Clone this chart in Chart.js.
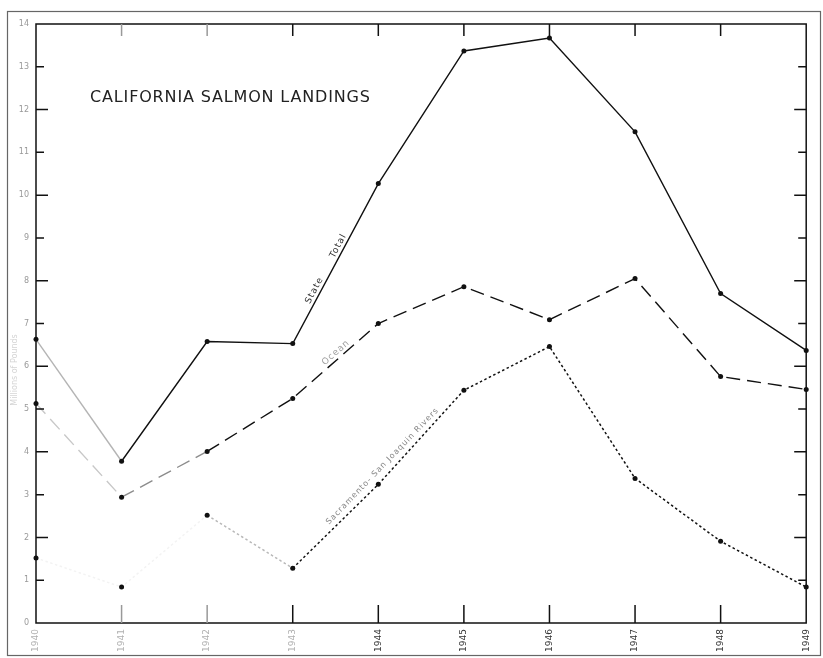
<!DOCTYPE html>
<html>
<head>
<meta charset="utf-8">
<script src="https://cdn.jsdelivr.net/npm/chart.js@4.4.1/dist/chart.umd.min.js"></script>
<style>
    html, body { margin: 0; padding: 0; background: #fff; }
    #wrap { width: 823px; height: 658px; position: relative; }
</style>
</head>
<body>
<div id="wrap"><canvas id="salmonChart"></canvas></div>
<script>
// Data (millions of pounds)
const years = ['1940', '1941', '1942', '1943', '1944', '1945', '1946', '1947', '1948', '1949'];
const stateTotal = [6.63, 3.78, 6.58, 6.53, 10.27, 13.37, 13.67, 11.48, 7.70, 6.37];
const ocean = [5.13, 2.94, 4.01, 5.25, 7.00, 7.86, 7.09, 8.05, 5.76, 5.46];
const rivers = [1.52, 0.84, 2.52, 1.28, 3.24, 5.44, 6.46, 3.38, 1.91, 0.84];
const yTickValues = [0, 1, 2, 3, 4, 5, 6, 7, 8, 9, 10, 11, 12, 13, 14];

// the old scan is washed out on the left, so early segments are lighter
const totalFade = ['#b4b4b4'];
const oceanFade = ['#c8c8c8', '#8c8c8c'];
const riversFade = ['#f3f3f3', '#f3f3f3', '#b8b8b8'];

// line labels written along the curves
const notes = [
    { text: 'State      Total', data: stateTotal, from: 3, to: 4, t: 0.45, off: 6, color: '#333', size: 9 },
    { text: 'Ocean', data: ocean, from: 3, to: 4, t: 0.55, off: 6, color: '#a0a0a0', size: 9 },
    { text: 'Sacramento- San Joaquin Rivers', data: rivers, from: 3, to: 5, t: 0.55, off: 6, color: '#888', size: 8 }
];

const framePlugin = {
    id: 'framePlugin',
    afterDraw(chart) {
        const ctx = chart.ctx;
        const area = chart.chartArea;
        const xs = chart.scales.x;
        const ys = chart.scales.y;
        ctx.save();

        // outer border of the sheet
        ctx.strokeStyle = '#666';
        ctx.lineWidth = 1.2;
        ctx.strokeRect(7.5, 11.5, 813, 644);

        // plot box
        ctx.strokeStyle = '#111';
        ctx.lineWidth = 1.5;
        ctx.strokeRect(area.left, area.top, area.right - area.left, area.bottom - area.top);

        // inward ticks on left and right sides
        yTickValues.forEach(v => {
            if (v === 0 || v === 14) return;
            const y = ys.getPixelForValue(v);
            const len = v % 2 === 0 ? 12 : 8;
            ctx.beginPath();
            ctx.moveTo(area.left, y);
            ctx.lineTo(area.left + len, y);
            ctx.moveTo(area.right, y);
            ctx.lineTo(area.right - len, y);
            ctx.stroke();
        });

        // inward ticks on top and bottom
        years.forEach((yr, i) => {
            if (i === 0 || i === years.length - 1) return;
            const x = xs.getPixelForValue(i);
            ctx.strokeStyle = i < 3 ? '#999' : '#111';
            ctx.beginPath();
            ctx.moveTo(x, area.bottom);
            ctx.lineTo(x, area.bottom - 18);
            ctx.moveTo(x, area.top);
            ctx.lineTo(x, area.top + 12);
            ctx.stroke();
        });

        // title
        const title = 'CALIFORNIA SALMON LANDINGS';
        ctx.fillStyle = '#222';
        ctx.font = '16px "DejaVu Sans"';
        const w = ctx.measureText(title).width;
        ctx.letterSpacing = Math.max(0, (280 - w) / (title.length - 1)) + 'px';
        ctx.textAlign = 'left';
        ctx.textBaseline = 'middle';
        ctx.fillText(title, 90, 98);
        ctx.letterSpacing = '0px';

        // faint axis title
        ctx.save();
        ctx.translate(15, 370);
        ctx.rotate(-Math.PI / 2);
        ctx.fillStyle = '#d4d4d4';
        ctx.font = '8px "DejaVu Sans"';
        ctx.textAlign = 'center';
        ctx.fillText('Millions of Pounds', 0, 0);
        ctx.restore();

        // labels along the lines
        notes.forEach(n => {
            const x0 = xs.getPixelForValue(n.from), y0 = ys.getPixelForValue(n.data[n.from]);
            const x1 = xs.getPixelForValue(n.to), y1 = ys.getPixelForValue(n.data[n.to]);
            const ang = Math.atan2(y1 - y0, x1 - x0);
            const px = x0 + (x1 - x0) * n.t + Math.sin(ang) * n.off;
            const py = y0 + (y1 - y0) * n.t - Math.cos(ang) * n.off;
            ctx.save();
            ctx.translate(px, py);
            ctx.rotate(ang);
            ctx.fillStyle = n.color;
            ctx.font = n.size + 'px "DejaVu Sans"';
            ctx.letterSpacing = '1px';
            ctx.textAlign = 'center';
            ctx.textBaseline = 'middle';
            ctx.fillText(n.text, 0, 0);
            ctx.restore();
        });

        ctx.restore();
    }
};

const ctx = document.getElementById('salmonChart').getContext('2d');
const salmonChart = new Chart(ctx, {
    type: 'line',
    data: {
        labels: years,
        datasets: [
            {
                label: 'State Total',
                data: stateTotal,
                borderColor: '#111',
                backgroundColor: '#111',
                borderWidth: 1.4,
                pointRadius: 2.5,
                pointBorderWidth: 0,
                segment: { borderColor: c => totalFade[c.p0DataIndex] }
            },
            {
                label: 'Ocean',
                data: ocean,
                borderColor: '#111',
                backgroundColor: '#111',
                borderWidth: 1.4,
                borderDash: [14, 7],
                pointRadius: 2.5,
                pointBorderWidth: 0,
                segment: { borderColor: c => oceanFade[c.p0DataIndex] }
            },
            {
                label: 'Sacramento-San Joaquin Rivers',
                data: rivers,
                borderColor: '#111',
                backgroundColor: '#111',
                borderWidth: 1.5,
                borderDash: [2.5, 2.5],
                pointRadius: 2.5,
                pointBorderWidth: 0,
                segment: { borderColor: c => riversFade[c.p0DataIndex] }
            }
        ]
    },
    options: {
        responsive: true,
        maintainAspectRatio: false,
        animation: false,
        layout: { padding: { top: 24, right: 12, left: 0, bottom: 0 } },
        plugins: {
            legend: { display: false },
            tooltip: { enabled: false }
        },
        scales: {
            x: {
                type: 'category',
                offset: false,
                grid: { display: false, drawTicks: false },
                border: { display: false },
                afterFit: s => { s.height = 35; },
                ticks: {
                    padding: 6,
                    minRotation: 90,
                    maxRotation: 90,
                    autoSkip: false,
                    font: { family: 'DejaVu Sans', size: 9 },
                    color: c => (c.index < 4 ? '#b0b0b0' : '#333')
                }
            },
            y: {
                min: 0,
                max: 14,
                grid: { display: false, drawTicks: false },
                border: { display: false },
                afterFit: s => { s.width = 36; },
                afterBuildTicks: s => { s.ticks = yTickValues.map(v => ({ value: v })); },
                ticks: {
                    padding: 7,
                    font: { family: 'DejaVu Sans', size: 8 },
                    color: '#999'
                }
            }
        }
    },
    plugins: [framePlugin]
});
</script>
</body>
</html>
